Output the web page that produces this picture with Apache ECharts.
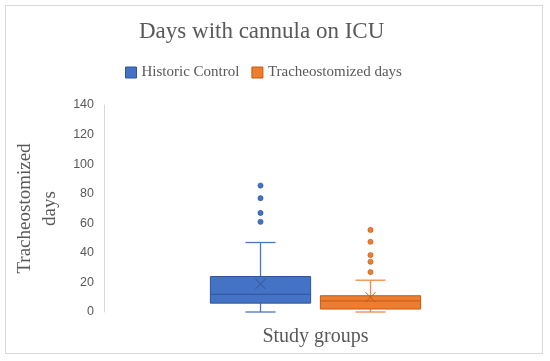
<!DOCTYPE html>
<html>
<head>
<meta charset="utf-8">
<script src="https://cdn.jsdelivr.net/npm/echarts@6/dist/echarts.min.js"></script>
<style>
html,body{margin:0;padding:0;background:#fff;}
#wrap{position:absolute;left:5px;top:5px;width:538px;height:349px;border:1px solid #d9d9d9;box-sizing:border-box;}
#chart{position:absolute;left:0;top:0;width:550px;height:361px;}
</style>
</head>
<body>
<div id="wrap"></div>
<div id="chart"></div>
<script>
// ---- data ----
var categories = [''];
var seriesNames = ['Historic Control', 'Tracheostomized days'];
// [category index, min, Q1, median, Q3, max (upper whisker), mean]
var historicStats = [0, 0, 6, 12, 24, 47, 19];
var tracheoStats = [0, 0, 2, 7.5, 11, 21.5, 10];
var historicOutliers = [61, 67, 77, 85.5];
var tracheoOutliers = [27, 34, 38.5, 47.5, 55.5];
var yTicks = [0, 20, 40, 60, 80, 100, 120, 140];

// ---- styling ----
var fills = ['#4472C4', '#ED7D31'];
var borders = ['#2F5597', '#C55A11'];
var whiskerColors = ['#4a76c6', '#ef8a48'];
var offsets = [-0.13, 0.13];      // fraction of band width
var boxFrac = 0.237;               // box width fraction of band
var capFrac = 0.3;                 // cap width fraction of box

function boxRender(params, api) {
  var si = params.seriesIndex;
  var band = api.size([1, 0])[0];
  var cx = api.coord([api.value(0), 0])[0] + band * offsets[si];
  var w = band * boxFrac;
  var yMin = api.coord([0, api.value(1)])[1];
  var yQ1 = api.coord([0, api.value(2)])[1];
  var yMed = api.coord([0, api.value(3)])[1];
  var yQ3 = api.coord([0, api.value(4)])[1];
  var yMax = api.coord([0, api.value(5)])[1];
  var yMean = api.coord([0, api.value(6)])[1];
  var cap = w * capFrac / 2;
  var wl = {stroke: whiskerColors[si], lineWidth: 1.3};
  var bl = {stroke: borders[si], lineWidth: 1};
  var m = 5;
  return {
    type: 'group',
    children: [
      {type: 'line', shape: {x1: cx, y1: yQ3, x2: cx, y2: yMax}, style: wl},
      {type: 'line', shape: {x1: cx, y1: yQ1, x2: cx, y2: yMin}, style: wl},
      {type: 'line', shape: {x1: cx - cap, y1: yMax, x2: cx + cap, y2: yMax}, style: wl},
      {type: 'line', shape: {x1: cx - cap, y1: yMin, x2: cx + cap, y2: yMin}, style: wl},
      {type: 'rect', shape: {x: cx - w / 2, y: yQ3, width: w, height: yQ1 - yQ3},
        style: {fill: fills[si], stroke: borders[si], lineWidth: 1}},
      {type: 'line', shape: {x1: cx - w / 2, y1: yMed, x2: cx + w / 2, y2: yMed}, style: bl},
      {type: 'line', shape: {x1: cx - m, y1: yMean - m, x2: cx + m, y2: yMean + m}, style: bl},
      {type: 'line', shape: {x1: cx - m, y1: yMean + m, x2: cx + m, y2: yMean - m}, style: bl}
    ]
  };
}

function outlierRender(params, api) {
  var si = params.seriesIndex - 2;
  var band = api.size([1, 0])[0];
  var cx = api.coord([api.value(0), 0])[0] + band * offsets[si];
  var cy = api.coord([0, api.value(1)])[1];
  return {type: 'circle', shape: {cx: cx, cy: cy, r: 2.6},
    style: {fill: fills[si], stroke: borders[si], lineWidth: 0.6}};
}

var serif = "'Liberation Serif', 'DejaVu Serif', serif";

var chart = echarts.init(document.getElementById('chart'), null, {renderer: 'canvas'});
chart.setOption({
  backgroundColor: 'transparent',
  animation: false,
  title: {
    text: 'Days with cannula on ICU',
    left: 134, top: 15,
    textStyle: {fontFamily: serif, fontSize: 23, fontWeight: 'normal', color: '#595959'}
  },
  legend: {
    top: 60, left: 120,
    data: seriesNames.map(function (n, i) { return {name: n, itemStyle: {color: fills[i], borderColor: borders[i], borderWidth: 1}}; }),
    icon: 'rect', itemWidth: 11, itemHeight: 11, itemGap: 12,
    textStyle: {fontFamily: serif, fontSize: 15, color: '#595959'}
  },
  grid: {left: 104, right: 23, top: 105, bottom: 49},
  xAxis: {
    type: 'category', data: categories,
    name: 'Study groups', nameLocation: 'middle', nameGap: 15,
    nameTextStyle: {fontFamily: serif, fontSize: 20, color: '#595959'},
    axisLine: {show: false}, axisTick: {show: false}, axisLabel: {show: false}
  },
  yAxis: {
    type: 'value', min: yTicks[0], max: yTicks[yTicks.length - 1], interval: 20,
    name: 'Tracheostomized\ndays', nameLocation: 'middle', nameGap: 35, nameRotate: 90,
    nameTextStyle: {fontFamily: serif, fontSize: 19, color: '#595959', lineHeight: 25},
    axisLine: {show: true, lineStyle: {color: '#d9d9d9'}},
    axisTick: {show: false},
    splitLine: {show: false},
    axisLabel: {fontFamily: "'Liberation Sans', Arial, sans-serif", fontSize: 12.5, color: '#595959', margin: 10}
  },
  series: [
    {name: seriesNames[0], type: 'custom', renderItem: boxRender, data: [historicStats], itemStyle: {color: fills[0]}},
    {name: seriesNames[1], type: 'custom', renderItem: boxRender, data: [tracheoStats], itemStyle: {color: fills[1]}},
    {name: seriesNames[0], type: 'custom', renderItem: outlierRender,
      data: historicOutliers.map(function (v) { return [0, v]; }), itemStyle: {color: fills[0]}},
    {name: seriesNames[1], type: 'custom', renderItem: outlierRender,
      data: tracheoOutliers.map(function (v) { return [0, v]; }), itemStyle: {color: fills[1]}}
  ]
});
</script>
</body>
</html>
